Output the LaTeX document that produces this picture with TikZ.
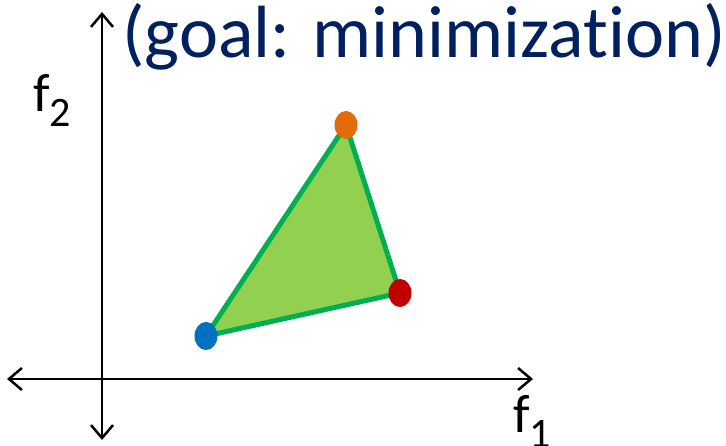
\documentclass[tikz,border=0pt]{standalone}
\usepackage{fontspec}
\setmainfont{Carlito}[Ligatures={NoCommon}]
\usepackage{xcolor}
\usetikzlibrary{arrows.meta, shapes.geometric}
\definecolor{goalblue}{HTML}{002060}
\definecolor{frontfill}{HTML}{92D050}
\definecolor{frontline}{HTML}{00B050}
\definecolor{ptblue}{HTML}{0070C0}
\definecolor{ptorange}{HTML}{E36C09}
\definecolor{ptred}{HTML}{C00000}
\newcommand{\objlabel}[2]{{\fontsize{54}{54}\selectfont #1}\raisebox{-15pt}{\fontsize{42}{42}\selectfont #2}}
\begin{document}
\begin{tikzpicture}[x=1pt, y=-1pt,
			axis/.style={draw=black, line width=2.5pt,
				{Straight Barb[length=13pt, width=22pt]}-{Straight Barb[length=13pt, width=22pt]}},
			dot/.style={ellipse, minimum width=23pt, minimum height=28pt, inner sep=0pt},
			front/.style={fill=frontfill, draw=frontline, line width=5pt, line join=round},
			lbl/.style={inner sep=0pt, anchor=base west}
			]
			\useasboundingbox (0,0) rectangle (726,446);
			% axes
			\coordinate (xl) at (7,379);
			\coordinate (xr) at (533,379);
			\coordinate (yt) at (102,12);
			\coordinate (yb) at (102,440);
			\draw[axis] (xl) -- (xr);
			\draw[axis] (yb) -- (yt);
			
			% the three solutions
			\coordinate (pb) at (206,336);
			\coordinate (po) at (346,125);
			\coordinate (pr) at (400,293);
			\draw[front] (pb) -- (po) -- (pr) -- cycle;
			\node[dot, fill=ptblue] (blue) at (pb) {};
			\node[dot, fill=ptorange] (orange) at (po) {};
			\node[dot, fill=ptred] (red) at (pr) {};
			
			\node[lbl] (f2) at (33,112) {\objlabel{f}{2}};
			\node[lbl] (f1) at (513,432) {\objlabel{f}{1}};
			\node[lbl, text=goalblue, font=\fontsize{74}{74}\selectfont] (goal) at (122,58) {(goal: minimization)};
		\end{tikzpicture}
\end{document}
